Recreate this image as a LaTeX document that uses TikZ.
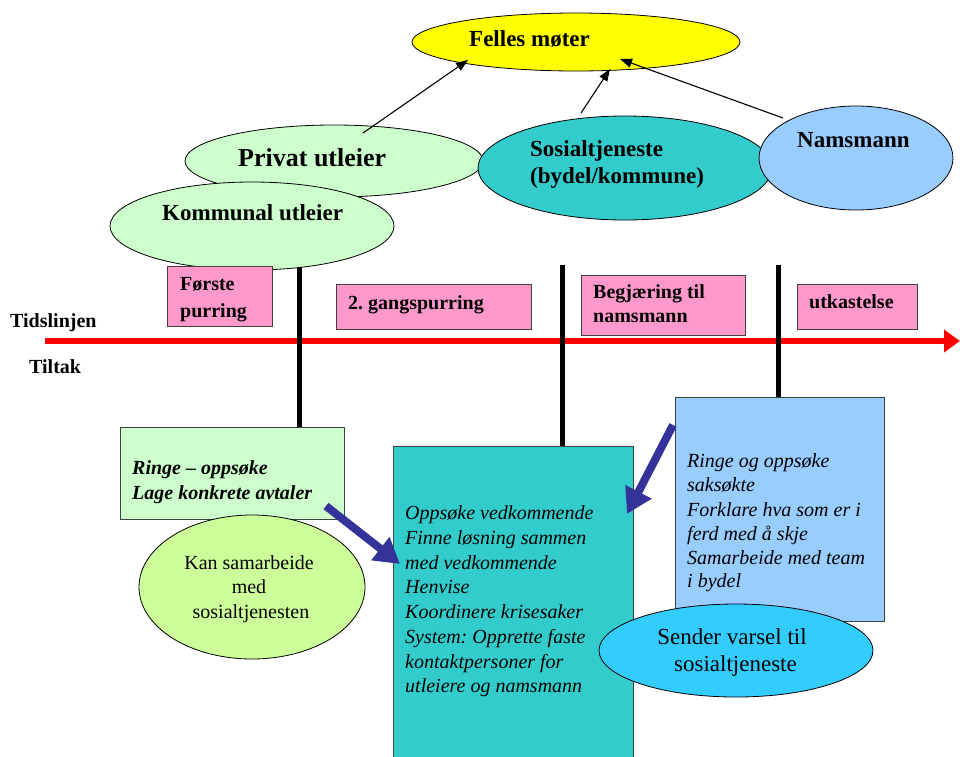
\documentclass[tikz,border=0pt]{standalone}
\usepackage{fontspec}
\setmainfont{Liberation Serif}
\usetikzlibrary{arrows.meta,shapes.geometric}
\definecolor{cyellow}{HTML}{FFFF00}
\definecolor{clgreen}{HTML}{CCFFCC}
\definecolor{cteal}{HTML}{33CCCC}
\definecolor{clblue}{HTML}{99CCFF}
\definecolor{cpink}{HTML}{FF99CC}
\definecolor{clime}{HTML}{CCFF99}
\definecolor{csky}{HTML}{33CCFF}
\definecolor{carrow}{HTML}{333399}
\definecolor{cred}{HTML}{FF0000}
\frenchspacing
\begin{document}
\begin{tikzpicture}[x=1pt,y=-1pt,
  ell/.style={ellipse, draw=black, line width=0.8pt, inner sep=0pt},
  box/.style={rectangle, draw=black!75, line width=0.8pt, inner sep=0pt},
  bigbold/.style={font=\fontsize{23}{27}\selectfont\bfseries, inner sep=0pt, anchor=base west},
  hugebold/.style={font=\fontsize{26}{30}\selectfont\bfseries, inner sep=0pt, anchor=base west},
  smbold/.style={font=\fontsize{20}{24}\selectfont\bfseries, inner sep=0pt, anchor=base west},
  bolditl/.style={font=\fontsize{20}{24}\selectfont\bfseries\itshape, inner sep=0pt, anchor=base west},
  itl/.style={font=\fontsize{20}{24}\selectfont\itshape, inner sep=0pt, anchor=base west},
  reg/.style={font=\fontsize{20}{24}\selectfont, inner sep=0pt, anchor=base},
  bigreg/.style={font=\fontsize{23}{27}\selectfont, inner sep=0pt, anchor=base},
  thinarrow/.style={line width=1.1pt, -{Triangle[length=12pt,width=9pt]}},
  fatarrow/.style={draw=carrow, line width=8pt, -{Triangle[length=25pt,width=28pt]}},
  divider/.style={line width=5pt, black},
  timeline/.style={draw=cred, line width=6pt, -{Triangle[length=16pt,width=22pt]}}
]
\useasboundingbox (0,0) rectangle (960,756);
\clip (0,0) rectangle (960,756);

% timeline
\coordinate (tl0) at (45,341);
\coordinate (tl1) at (960,341);
\draw[timeline] (tl0) -- (tl1);

% divider coordinates
\coordinate (v1a) at (299.5,262);
\coordinate (v1b) at (299.5,428);
\coordinate (v2a) at (562,265);
\coordinate (v2b) at (562,447);
\coordinate (v3a) at (778,265);
\coordinate (v3b) at (778,398);
\draw[divider] (v1a) -- (v1b);
\draw[divider] (v2a) -- (v2b);
\draw[divider] (v3a) -- (v3b);

% top ellipses
\node[ell, fill=clgreen, minimum width=298, minimum height=72] (privat) at (334,161) {};
\node[ell, fill=cteal, minimum width=294, minimum height=104] (sosial) at (625,168) {};
\node[ell, fill=clblue, minimum width=194, minimum height=104] (nams) at (856,158) {};
\node[ell, fill=clgreen, minimum width=284, minimum height=88] (kommunal) at (252,226) {};
\node[ell, fill=cyellow, minimum width=328, minimum height=58] (felles) at (576,42) {};

% thin arrows
\coordinate (a1s) at (363,133);
\coordinate (a1e) at (468,60);
\coordinate (a2s) at (581,113);
\coordinate (a2e) at (610,69);
\coordinate (a3s) at (783,118);
\coordinate (a3e) at (620,59);
\draw[thinarrow] (a1s) -- (a1e);
\draw[thinarrow] (a2s) -- (a2e);
\draw[thinarrow] (a3s) -- (a3e);

% pink boxes
\node[box, fill=cpink, minimum width=105, minimum height=60] (b1) at (219.5,296) {};
\node[box, fill=cpink, minimum width=195, minimum height=45] (b2) at (433.5,306.5) {};
\node[box, fill=cpink, minimum width=164, minimum height=60] (b3) at (663,305) {};
\node[box, fill=cpink, minimum width=120, minimum height=45] (b4) at (857,306.5) {};

% lower boxes
\node[box, fill=clgreen, minimum width=224, minimum height=92] (g1) at (232,473) {};
\node[ell, fill=clime, minimum width=226, minimum height=144] (kan) at (252,587) {};
\node[box, fill=cteal, minimum width=240, minimum height=316] (t1) at (513,604) {};
\node[box, fill=clblue, minimum width=209, minimum height=224] (n1) at (779.5,509) {};
\node[ell, fill=csky, minimum width=274, minimum height=93] (sender) at (736,650.5) {};

% fat blue arrows
\coordinate (f1s) at (326,506);
\coordinate (f1e) at (400,564);
\coordinate (f2s) at (673,425);
\coordinate (f2e) at (627,514);
\draw[fatarrow] (f1s) -- (f1e);
\draw[fatarrow] (f2s) -- (f2e);

% texts top
\node[bigbold] (tfelles) at (469,46) {Felles møter};
\node[hugebold] (tprivat) at (238,166) {Privat utleier};
\node[bigbold] (tkommunal) at (162,220) {Kommunal utleier};
\node[bigbold] (tsos1) at (530,156) {Sosialtjeneste};
\node[bigbold] (tsos2) at (530,183) {(bydel/kommune)};
\node[bigbold] (tnams) at (797,147) {Namsmann};

% timeline texts
\node[smbold] (tfor1) at (180,290) {Første};
\node[smbold] (tfor2) at (180,317) {purring};
\node[smbold] (tgang) at (348,309) {2. gangspurring};
\node[smbold] (tbeg1) at (593,298) {Begjæring til};
\node[smbold] (tbeg2) at (593,322) {namsmann};
\node[smbold] (tutk) at (809,308) {utkastelse};
\node[smbold] (ttid) at (10,327) {Tidslinjen};
\node[smbold] (ttil) at (29,373) {Tiltak};

% green box texts
\node[bolditl] (tg1) at (132,474) {Ringe – oppsøke};
\node[bolditl] (tg2) at (132,499) {Lage konkrete avtaler};

% kan ellipse
\node[reg] (tk1) at (249,569) {Kan samarbeide};
\node[reg] (tk2) at (249,593) {med};
\node[reg] (tk3) at (251,618) {sosialtjenesten};

% teal box texts
\node[itl] (tt1) at (405,519) {Oppsøke vedkommende};
\node[itl] (tt2) at (405,544) {Finne løsning sammen};
\node[itl] (tt3) at (405,569) {med vedkommende};
\node[itl] (tt4) at (405,593) {Henvise};
\node[itl] (tt5) at (405,618) {Koordinere krisesaker};
\node[itl] (tt6) at (405,643) {System: Opprette faste};
\node[itl] (tt7) at (405,668) {kontaktpersoner for};
\node[itl] (tt8) at (405,692) {utleiere og namsmann};

% blue box texts
\node[itl] (tn1) at (687,467) {Ringe og oppsøke};
\node[itl] (tn2) at (687,491) {saksøkte};
\node[itl] (tn3) at (687,516) {Forklare hva som er i};
\node[itl] (tn4) at (687,540) {ferd med å skje};
\node[itl] (tn5) at (687,564) {Samarbeide med team};
\node[itl] (tn6) at (687,587) {i bydel};

% sender ellipse
\node[bigreg] (ts1) at (732,644) {Sender varsel til};
\node[bigreg] (ts2) at (735.5,671) {sosialtjeneste};
\end{tikzpicture}
\end{document}
